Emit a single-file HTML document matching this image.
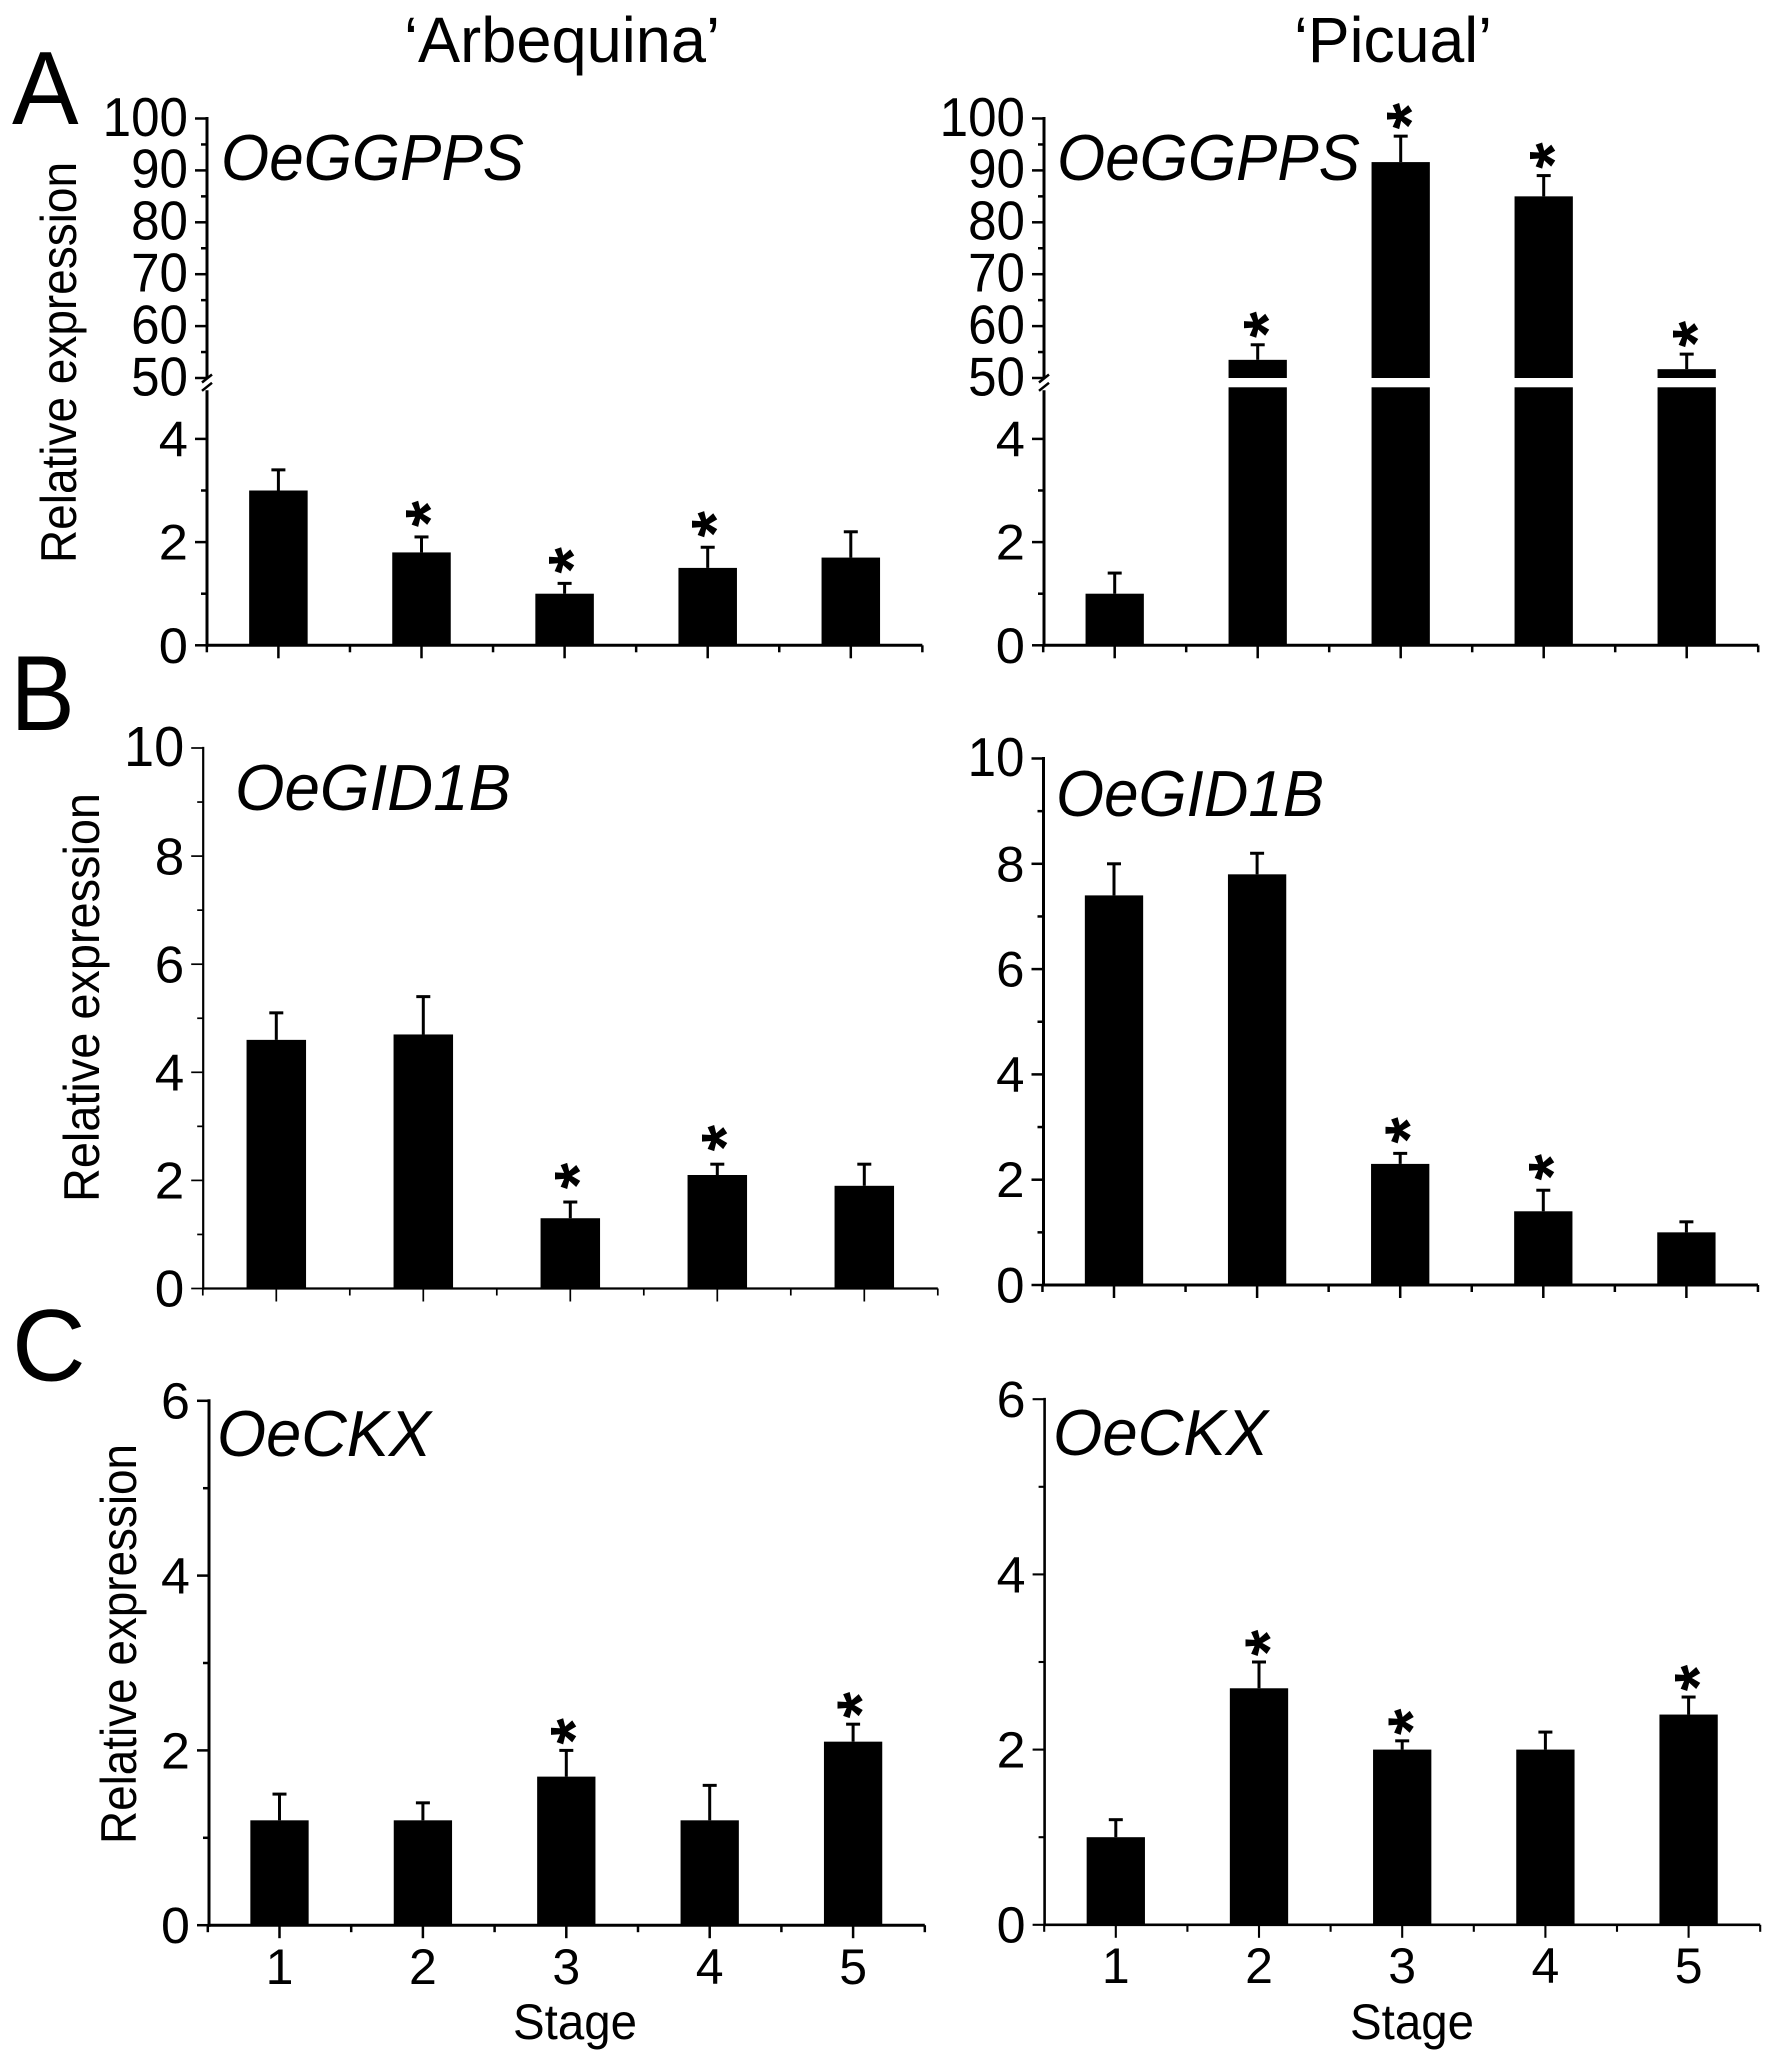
<!DOCTYPE html>
<html lang="en">
<head>
<meta charset="utf-8">
<title>Relative expression of OeGGPPS, OeGID1B and OeCKX</title>
<style>
html,body{margin:0;padding:0;background:#fff;}
svg{display:block;}
text{font-family:"Liberation Sans",Arial,sans-serif;fill:#000;}
</style>
</head>
<body>
<svg id="figure" xmlns="http://www.w3.org/2000/svg" width="1779" height="2066" viewBox="0 0 1779 2066">
  <rect x="0" y="0" width="1779" height="2066" fill="#fff"/>

  <text x="404" y="62" font-size="64" textLength="316" lengthAdjust="spacingAndGlyphs">‘Arbequina’</text>
  <text x="1294" y="62" font-size="64" textLength="198" lengthAdjust="spacingAndGlyphs">‘Picual’</text>

  <text transform="translate(12,124) scale(0.96,1)" font-size="104">A</text>
  <text transform="translate(10.5,730) scale(0.9,1)" font-size="107">B</text>
  <text x="12" y="1380.5" font-size="102">C</text>

  <text x="221" y="180" font-size="65" font-style="italic" textLength="303" lengthAdjust="spacingAndGlyphs">OeGGPPS</text>
  <text x="1057" y="180" font-size="65" font-style="italic" textLength="303" lengthAdjust="spacingAndGlyphs">OeGGPPS</text>
  <text x="235" y="810" font-size="65" font-style="italic" textLength="276" lengthAdjust="spacingAndGlyphs">OeGID1B</text>
  <text x="1056" y="816" font-size="65" font-style="italic" textLength="268" lengthAdjust="spacingAndGlyphs">OeGID1B</text>
  <text x="217" y="1456" font-size="65" font-style="italic" textLength="214" lengthAdjust="spacingAndGlyphs">OeCKX</text>
  <text x="1053" y="1455" font-size="65" font-style="italic" textLength="215" lengthAdjust="spacingAndGlyphs">OeCKX</text>

  <text transform="translate(76,563) rotate(-90)" font-size="50" textLength="401" lengthAdjust="spacingAndGlyphs">Relative expression</text>
  <text transform="translate(99,1202) rotate(-90)" font-size="50" textLength="409" lengthAdjust="spacingAndGlyphs">Relative expression</text>
  <text transform="translate(136,1844) rotate(-90)" font-size="50" textLength="400" lengthAdjust="spacingAndGlyphs">Relative expression</text>

  <text x="513" y="2039" font-size="50" textLength="124" lengthAdjust="spacingAndGlyphs">Stage</text>
  <text x="1350" y="2039" font-size="50" textLength="124" lengthAdjust="spacingAndGlyphs">Stage</text>
</svg>

<script>
// ---- chart data ----
const stages = ['1', '2', '3', '4', '5'];

const ggppsArbequinaValues = [3.0, 1.8, 1.0, 1.5, 1.7];
const ggppsArbequinaErrors = [0.4, 0.3, 0.2, 0.4, 0.5];
const ggppsArbequinaStars = [0, 1, 1, 1, 0];

const ggppsPicualValues = [1.0, 53.5, 91.6, 85.0, 51.7];
const ggppsPicualErrors = [0.4, 2.9, 5.0, 4.0, 2.9];
const ggppsPicualStars = [0, 1, 1, 1, 1];

const gid1bArbequinaValues = [4.6, 4.7, 1.3, 2.1, 1.9];
const gid1bArbequinaErrors = [0.5, 0.7, 0.3, 0.2, 0.4];
const gid1bArbequinaStars = [0, 0, 1, 1, 0];

const gid1bPicualValues = [7.4, 7.8, 2.3, 1.4, 1.0];
const gid1bPicualErrors = [0.6, 0.4, 0.2, 0.4, 0.2];
const gid1bPicualStars = [0, 0, 1, 1, 0];

const ckxArbequinaValues = [1.2, 1.2, 1.7, 1.2, 2.1];
const ckxArbequinaErrors = [0.3, 0.2, 0.3, 0.4, 0.2];
const ckxArbequinaStars = [0, 0, 1, 0, 1];

const ckxPicualValues = [1.0, 2.7, 2.0, 2.0, 2.4];
const ckxPicualErrors = [0.2, 0.3, 0.1, 0.2, 0.2];
const ckxPicualStars = [0, 1, 1, 0, 1];

const ggppsMajorTicks = [0, 2, 4, 50, 60, 70, 80, 90, 100];
const ggppsMinorTicks = [1, 3, 55, 65, 75, 85, 95];
const gid1bMajorTicks = [0, 2, 4, 6, 8, 10];
const gid1bMinorTicks = [1, 3, 5, 7, 9];
const ckxMajorTicks = [0, 2, 4, 6];
const ckxMinorTicks = [1, 3, 5];

// ---- rendering ----
const NS = 'http://www.w3.org/2000/svg';
const figure = document.getElementById('figure');

function make(parent, tag, attrs) {
  const el = document.createElementNS(NS, tag);
  for (const k in attrs) el.setAttribute(k, attrs[k]);
  parent.appendChild(el);
  return el;
}

function linearY(y0, pxPerUnit) {
  return v => y0 - v * pxPerUnit;
}

function brokenY(y0, lowPx, breakY, highPx) {
  return v => v <= 5 ? y0 - v * lowPx : breakY - (v - 50) * highPx;
}

function drawPanel(p) {
  const g = make(figure, 'g', {});
  
  

  const xOf = i => p.x0 + i * p.dx;
  const xEnd = xOf(4) + p.dx / 2;
  const y = p.y;
  const axisW = p.axisW;

  // bars, error bars and stars
  p.values.forEach((v, i) => {
    const cx = xOf(i);
    const barW = p.barW;
    const errTop = y(v + p.errors[i]);

    const stem = make(g, 'line', {x1: cx, x2: cx, y1: y(v), y2: errTop, stroke: '#000', 'stroke-width': 3});
    
    
    const cap = make(g, 'line', {x1: cx - 7, x2: cx + 7, y1: errTop, y2: errTop, stroke: '#000', 'stroke-width': 3});
    
    

    if (p.broken && v > 5) {
      const low = make(g, 'rect', {x: cx - barW / 2, width: barW, y: y(5), height: y(0) - y(5), fill: '#000'});
      
      
      const high = make(g, 'rect', {x: cx - barW / 2, width: barW, y: y(v), height: y(50) - y(v), fill: '#000'});
      
      
    } else {
      const bar = make(g, 'rect', {x: cx - barW / 2, width: barW, y: y(v), height: y(0) - y(v), fill: '#000'});
      
      
    }

    if (p.stars[i]) {
      const star = make(g, 'text', {
        transform: 'translate(' + (cx + p.starDx) + ',' + (errTop - p.starGap) + ') rotate(-90)',
        x: 0,
        y: 33,
        'font-size': 68,
        'font-weight': 'bold',
        'text-anchor': 'middle'
      });
      star.textContent = '*';
      
      
    }
  });

  // y axis line
  if (p.broken) {
    const lower = make(g, 'line', {x1: p.axisX, x2: p.axisX, y1: y(0) + axisW / 2, y2: y(5) + 3, stroke: '#000', 'stroke-width': axisW});
    
    
    const upper = make(g, 'line', {x1: p.axisX, x2: p.axisX, y1: y(50), y2: y(100) - axisW / 2, stroke: '#000', 'stroke-width': axisW});
    
    
    [y(50) + 0.5, y(5) - 0.5].forEach(by => {
      const mark = make(g, 'line', {x1: p.axisX - 5, x2: p.axisX + 5, y1: by + 4, y2: by - 4, stroke: '#000', 'stroke-width': 2.5});
      
      
    });
  } else {
    const axis = make(g, 'line', {x1: p.axisX, x2: p.axisX, y1: y(0) + axisW / 2, y2: y(p.top) - axisW / 2, stroke: '#000', 'stroke-width': axisW});
    
    
  }

  // y ticks
  p.major.forEach(t => {
    const tick = make(g, 'line', {x1: p.axisX - 12, x2: p.axisX, y1: y(t), y2: y(t), stroke: '#000', 'stroke-width': axisW - 0.5});
    
    
    const big = t >= 10;
    const fs = big ? p.bigFont : p.font;
    const sx = big ? p.bigSx : p.sx;
    const baseline = y(t) + fs * 0.35 - (big ? 2 : 0);
    const label = make(g, 'text', {
      transform: 'translate(' + (p.axisX - 19) + ',' + baseline + ') scale(' + sx + ',1)',
      'font-size': fs,
      'text-anchor': 'end'
    });
    label.textContent = String(t);
    
    
  });
  p.minor.forEach(t => {
    const tick = make(g, 'line', {x1: p.axisX - 6, x2: p.axisX, y1: y(t), y2: y(t), stroke: '#000', 'stroke-width': axisW - 0.5});
    
    
  });

  // x axis line
  const xAxis = make(g, 'line', {x1: p.axisX, x2: xEnd, y1: y(0), y2: y(0), stroke: '#000', 'stroke-width': axisW});
  
  

  // x ticks and labels
  stages.forEach((s, i) => {
    const tick = make(g, 'line', {x1: xOf(i), x2: xOf(i), y1: y(0), y2: y(0) + 13, stroke: '#000', 'stroke-width': axisW - 0.5});
    
    
    const minor = make(g, 'line', {x1: xOf(i) - p.dx / 2, x2: xOf(i) - p.dx / 2, y1: y(0), y2: y(0) + 7, stroke: '#000', 'stroke-width': axisW - 0.5});
    
    
    if (p.showX) {
      const label = make(g, 'text', {
        transform: 'translate(' + xOf(i) + ',' + p.xLabelY + ') scale(1.0,1)',
        'font-size': 50,
        'text-anchor': 'middle'
      });
      label.textContent = s;
      
      
    }
  });
  const last = make(g, 'line', {x1: xEnd, x2: xEnd, y1: y(0), y2: y(0) + 7, stroke: '#000', 'stroke-width': axisW - 0.5});
  
  
}

drawPanel({
  name: 'ggpps-arbequina', values: ggppsArbequinaValues, errors: ggppsArbequinaErrors, stars: ggppsArbequinaStars,
  major: ggppsMajorTicks, minor: ggppsMinorTicks, broken: true, top: 100,
  y: brokenY(645.3, 51.6, 378, 5.19), axisX: 207, x0: 278.4, dx: 143.1, barW: 58.5, axisW: 3, starGap: 23, starDx: -2,
  font: 50, sx: 1.05, bigFont: 55, bigSx: 0.93, showX: false
});
drawPanel({
  name: 'ggpps-picual', values: ggppsPicualValues, errors: ggppsPicualErrors, stars: ggppsPicualStars,
  major: ggppsMajorTicks, minor: ggppsMinorTicks, broken: true, top: 100,
  y: brokenY(645.3, 51.6, 378, 5.19), axisX: 1044, x0: 1114.7, dx: 143, barW: 58.3, axisW: 3, starGap: 20, starDx: 0,
  font: 50, sx: 1.05, bigFont: 55, bigSx: 0.93, showX: false
});
drawPanel({
  name: 'gid1b-arbequina', values: gid1bArbequinaValues, errors: gid1bArbequinaErrors, stars: gid1bArbequinaStars,
  major: gid1bMajorTicks, minor: gid1bMinorTicks, broken: false, top: 10,
  y: linearY(1288.5, 54.05), axisX: 203.2, x0: 276.3, dx: 147, barW: 59.5, axisW: 2.2, starGap: 26, starDx: -2,
  font: 52, sx: 1.02, bigFont: 57, bigSx: 0.95, showX: false
});
drawPanel({
  name: 'gid1b-picual', values: gid1bPicualValues, errors: gid1bPicualErrors, stars: gid1bPicualStars,
  major: gid1bMajorTicks, minor: gid1bMinorTicks, broken: false, top: 10,
  y: linearY(1285, 52.65), axisX: 1043.5, x0: 1114, dx: 143.1, barW: 58.3, axisW: 3, starGap: 23, starDx: -1,
  font: 50, sx: 1.02, bigFont: 55, bigSx: 0.93, showX: false
});
drawPanel({
  name: 'ckx-arbequina', values: ckxArbequinaValues, errors: ckxArbequinaErrors, stars: ckxArbequinaStars,
  major: ckxMajorTicks, minor: ckxMinorTicks, broken: false, top: 6,
  y: linearY(1925.2, 87.4), axisX: 209, x0: 279.5, dx: 143.4, barW: 58.3, axisW: 3, starGap: 19, starDx: -2,
  font: 51, sx: 1.02, bigFont: 51, bigSx: 1.02, showX: true, xLabelY: 1984
});
drawPanel({
  name: 'ckx-picual', values: ckxPicualValues, errors: ckxPicualErrors, stars: ckxPicualStars,
  major: ckxMajorTicks, minor: ckxMinorTicks, broken: false, top: 6,
  y: linearY(1924.8, 87.6), axisX: 1044.6, x0: 1115.8, dx: 143.2, barW: 58.3, axisW: 2.6, starGap: 19, starDx: 0,
  font: 51, sx: 1.02, bigFont: 51, bigSx: 1.02, showX: true, xLabelY: 1983
});
</script>
</body>
</html>
